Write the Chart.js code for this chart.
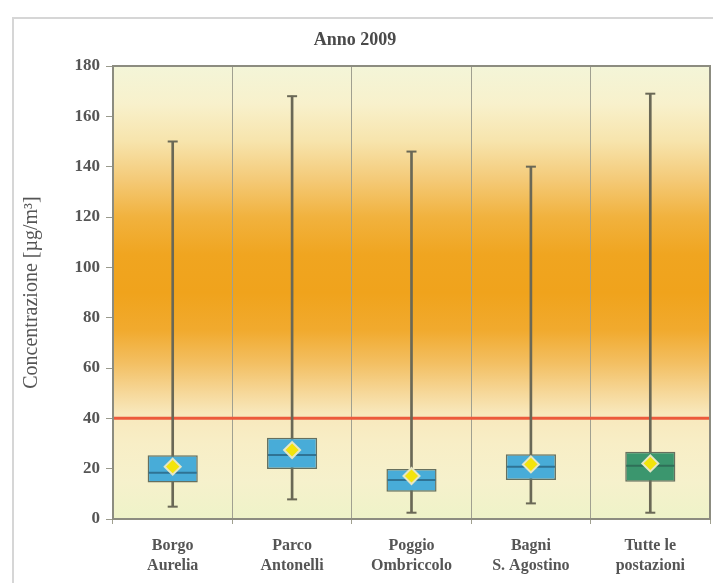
<!DOCTYPE html>
<html><head><meta charset="utf-8">
<script src="https://cdn.jsdelivr.net/npm/chart.js@4/dist/chart.umd.min.js"></script>
<style>
html,body{margin:0;padding:0;background:#fff;}
#wrap{position:relative;width:713px;height:583px;overflow:hidden;}
#frame{position:absolute;left:12px;top:17px;width:760px;height:700px;border:2px solid #d6d6d6;box-sizing:border-box;}
canvas{position:absolute;left:0;top:0;}
</style>
</head><body>
<div id="wrap"><div id="frame"></div><canvas id="c" width="713" height="583"></canvas></div>
<script>
// ---- data ----
const categories = [["Borgo","Aurelia"],["Parco","Antonelli"],["Poggio","Ombriccolo"],["Bagni","S. Agostino"],["Tutte le","postazioni"]];
const minValues    = [4.9, 7.8, 2.5, 6.2, 2.5];
const q1Values     = [14.5, 19.9, 10.8, 15.5, 14.8];
const medianValues = [18.4, 25.4, 15.5, 20.8, 21.2];
const q3Values     = [25.3, 32.3, 19.9, 25.7, 26.7];
const maxValues    = [150, 168, 146, 140, 169];
const meanValues   = [20.8, 27.4, 17.1, 21.7, 22.1];
const limitValue   = 40;
const yMin = 0, yMax = 180, yStep = 20;

const boxColors = ["#48acd8","#48acd8","#48acd8","#48acd8","#3b966e"];

const bgPlugin = {
  id:'bg',
  beforeDraw(chart){
    const {ctx, chartArea:a, scales:{y}} = chart;
    const g = ctx.createLinearGradient(0, y.getPixelForValue(180), 0, y.getPixelForValue(0));
    const stops = [[180,'#f3f5d8'],[165,'#f8f1cc'],[150,'#f7e4ac'],[135,'#f4ca78'],[120,'#f1b23e'],[105,'#f0a520'],[90,'#f0a31c'],[75,'#f1aa2e'],[62,'#f3bf62'],[50,'#f6d89a'],[42,'#f8e8bc'],[30,'#f8eec6'],[15,'#f6f1cc'],[0,'#eef3c8']];
    stops.forEach(([v,c])=>g.addColorStop((180-v)/180,c));
    ctx.save();
    ctx.fillStyle = g;
    ctx.fillRect(a.left, a.top, a.right-a.left, a.bottom-a.top);
    ctx.restore();
  },
  beforeDatasetsDraw(chart){
    const {ctx, chartArea:a, scales:{y}} = chart;
    const py = y.getPixelForValue(limitValue);
    ctx.save();
    ctx.strokeStyle = '#ec5a3c';
    ctx.lineWidth = 3;
    ctx.beginPath(); ctx.moveTo(a.left, py); ctx.lineTo(a.right, py); ctx.stroke();
    ctx.restore();
  },
  afterDatasetDraw(chart, args){
    const {ctx, scales:{x,y}} = chart;
    const ds = chart.data.datasets[args.index];
    ctx.save();
    if (ds.label === 'whisker') {
      ctx.strokeStyle = '#6a6856'; ctx.lineWidth = 2;
      categories.forEach((c,i)=>{
        const px = x.getPixelForValue(i);
        [minValues[i], maxValues[i]].forEach(v=>{
          const py = y.getPixelForValue(v);
          ctx.beginPath(); ctx.moveTo(px-5, py); ctx.lineTo(px+5, py); ctx.stroke();
        });
      });
    }
    if (ds.label === 'box') {
      const meta = chart.getDatasetMeta(args.index);
      ctx.lineWidth = 2;
      meta.data.forEach((bar,i)=>{
        const py = y.getPixelForValue(medianValues[i]);
        ctx.strokeStyle = i===4 ? '#2f6f58' : '#2f7394';
        ctx.beginPath(); ctx.moveTo(bar.x - bar.width/2 + 1, py); ctx.lineTo(bar.x + bar.width/2 - 1, py); ctx.stroke();
      });
    }
    ctx.restore();
  },
  afterDraw(chart){
    const {ctx, chartArea:a} = chart;
    ctx.save();
    ctx.strokeStyle = '#8c8c80'; ctx.lineWidth = 2;
    ctx.strokeRect(a.left, a.top, a.right-a.left, a.bottom-a.top);
    ctx.restore();
  }
};

new Chart(document.getElementById('c'), {
  type: 'bar',
  data: {
    labels: categories,
    datasets: [
      { type:'line', label:'mean', data: meanValues, showLine:false, pointStyle:'rectRot', pointRadius:8,
        backgroundColor:'#f3e40c', borderColor:'#e6e6c4', borderWidth:2, order:0 },
      { label:'box', data: q1Values.map((v,i)=>[v, q3Values[i]]), backgroundColor: boxColors,
        borderColor:'#66705f', borderWidth:1.5, borderSkipped:false, barPercentage:0.42, categoryPercentage:1,
        grouped:false, order:1 },
      { label:'whisker', data: minValues.map((v,i)=>[v, maxValues[i]]), backgroundColor:'#6a6856',
        barThickness:2, grouped:false, order:2 }
    ]
  },
  options: {
    responsive:false, devicePixelRatio:1, animation:false,
    layout:{ autoPadding:false, padding:{ left:0, right:3, top:0, bottom:0 } },
    plugins:{
      legend:{ display:false }, tooltip:{ enabled:false },
      title:{ display:true, text:'Anno 2009', color:'#4a4a4a',
        font:{ family:'"Liberation Serif", "Times New Roman", serif', size:18, weight:'bold', lineHeight:1.2 },
        padding:{ top:30, bottom:14.4 } }
    },
    scales:{
      x:{
        afterFit(s){ s.height = 64; },
        grid:{ display:true, offset:true, color:'#a0a090', lineWidth:1, drawTicks:true, tickLength:5 },
        border:{ display:true, color:'#8c8c80', width:2 },
        ticks:{ color:'#555', padding:12, font:{ family:'"Liberation Serif", "Times New Roman", serif', size:16, weight:'bold', lineHeight:1.25 } }
      },
      y:{
        min:yMin, max:yMax,
        afterFit(s){ s.width = 113; },
        grid:{ drawOnChartArea:false, drawTicks:true, tickLength:7, color:'#9a9a8c' },
        border:{ display:true, color:'#8c8c80', width:2 },
        ticks:{ stepSize:yStep, color:'#555', padding:6,
          font:{ family:'"Liberation Serif", "Times New Roman", serif', size:17, weight:'bold' } },
        title:{ display:true, text:'Concentrazione [µg/m³]', color:'#555',
          font:{ family:'"Liberation Serif", "Times New Roman", serif', size:20 }, padding:{ top:20, bottom:0 } }
      }
    }
  },
  plugins:[bgPlugin]
});
</script>
</body></html>
